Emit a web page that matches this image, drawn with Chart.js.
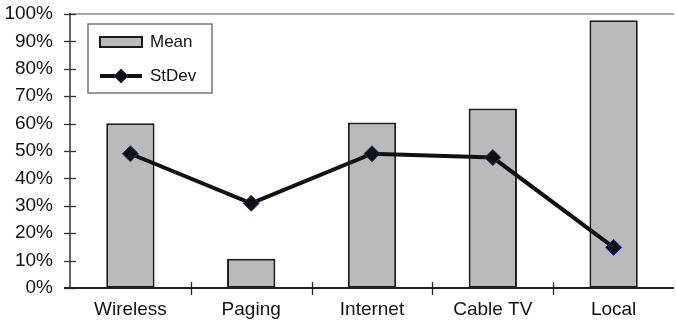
<!DOCTYPE html>
<html>
<head>
<meta charset="utf-8">
<script src="https://cdn.jsdelivr.net/npm/chart.js@4/dist/chart.umd.min.js"></script>
<style>
  html, body { margin: 0; padding: 0; background: #fff; overflow: hidden; }
  #wrap { width: 683px; height: 326px; }
</style>
</head>
<body>
<div id="wrap"><canvas id="c" width="683" height="326"></canvas></div>
<script>
// Categories and series (percent)
const categories = ['Wireless', 'Paging', 'Internet', 'Cable TV', 'Local'];
const meanValues = [60.1, 10.7, 60.4, 65.5, 97.7];
const stdevValues = [49.0, 30.9, 49.0, 47.6, 14.8];
const yTickStep = 10;

const FONT = '"Liberation Sans", Arial, Helvetica, sans-serif';

// Axis lines, crossing tick marks, top border and the boxed legend
const framePlugin = {
  id: 'frame',
  beforeDatasetsDraw(chart) {
    const { ctx, chartArea: a } = chart;
    ctx.save();
    ctx.strokeStyle = '#a6a6a6';
    ctx.lineWidth = 2;
    ctx.beginPath();
    ctx.moveTo(a.left, a.top);
    ctx.lineTo(a.right, a.top);
    ctx.stroke();
    ctx.restore();
  },
  afterDatasetsDraw(chart) {
    const { ctx, chartArea: a, scales } = chart;
    const xs = scales.x, ys = scales.y;
    ctx.save();
    // y axis
    ctx.strokeStyle = '#666';
    ctx.lineWidth = 2;
    ctx.beginPath();
    ctx.moveTo(a.left, a.top - 1);
    ctx.lineTo(a.left, a.bottom);
    ctx.stroke();
    ctx.strokeStyle = '#333';
    ctx.lineWidth = 1.3;
    ys.ticks.forEach(t => {
      const y = Math.round(ys.getPixelForValue(t.value)) + 0.5;
      ctx.beginPath();
      ctx.moveTo(a.left - 6, y);
      ctx.lineTo(a.left + 6, y);
      ctx.stroke();
    });
    // x axis
    ctx.strokeStyle = '#222';
    ctx.lineWidth = 2;
    ctx.beginPath();
    ctx.moveTo(a.left - 6, a.bottom);
    ctx.lineTo(a.right, a.bottom);
    ctx.stroke();
    ctx.lineWidth = 1.3;
    const n = categories.length;
    for (let i = 1; i < n; i++) {
      const x = Math.round((xs.getPixelForValue(i - 1) + xs.getPixelForValue(i)) / 2) + 0.5;
      ctx.beginPath();
      ctx.moveTo(x, a.bottom - 6);
      ctx.lineTo(x, a.bottom + 7);
      ctx.stroke();
    }

    // legend box
    const lx = a.left + 18, ly = a.top + 10, lw = 124, lh = 69;
    ctx.fillStyle = '#fff';
    ctx.fillRect(lx, ly, lw, lh);
    ctx.strokeStyle = '#777';
    ctx.lineWidth = 1.5;
    ctx.strokeRect(lx, ly, lw, lh);

    const bar = chart.data.datasets[1];
    const line = chart.data.datasets[0];
    const sx = lx + 12, sw = 42;
    // bar swatch
    ctx.fillStyle = bar.backgroundColor;
    ctx.fillRect(sx, ly + 13, sw, 10);
    ctx.strokeStyle = bar.borderColor;
    ctx.lineWidth = 2;
    ctx.strokeRect(sx, ly + 13, sw, 10);
    // line swatch
    const yL = ly + 52;
    ctx.strokeStyle = line.borderColor;
    ctx.lineWidth = 4;
    ctx.beginPath();
    ctx.moveTo(sx, yL);
    ctx.lineTo(sx + sw, yL);
    ctx.stroke();
    const cx = sx + sw / 2, r = 7;
    ctx.beginPath();
    ctx.moveTo(cx, yL - r);
    ctx.lineTo(cx + r, yL);
    ctx.lineTo(cx, yL + r);
    ctx.lineTo(cx - r, yL);
    ctx.closePath();
    ctx.fillStyle = line.pointBackgroundColor;
    ctx.fill();
    ctx.strokeStyle = line.pointBorderColor;
    ctx.lineWidth = 1;
    ctx.stroke();
    // labels
    ctx.fillStyle = '#111';
    ctx.font = '17px ' + FONT;
    ctx.textBaseline = 'middle';
    ctx.textAlign = 'left';
    ctx.fillText(bar.label, sx + sw + 8, ly + 18);
    ctx.fillText(line.label, sx + sw + 8, yL);
    ctx.restore();
  }
};

new Chart(document.getElementById('c'), {
  data: {
    labels: categories,
    datasets: [
      {
        type: 'line',
        label: 'StDev',
        data: stdevValues,
        order: 1,
        borderColor: '#111',
        borderWidth: 4,
        pointStyle: 'rectRot',
        pointRadius: 8,
        pointHoverRadius: 8,
        pointBackgroundColor: '#111',
        pointBorderColor: '#2b2b86',
        pointBorderWidth: 1,
        tension: 0,
        fill: false
      },
      {
        type: 'bar',
        label: 'Mean',
        data: meanValues,
        order: 2,
        backgroundColor: '#bababa',
        borderColor: '#1a1a1a',
        borderWidth: 2,
        borderSkipped: false,
        categoryPercentage: 1.0,
        barPercentage: 0.4
      }
    ]
  },
  options: {
    responsive: false,
    animation: false,
    events: [],
    layout: { padding: 0 },
    plugins: { legend: { display: false }, tooltip: { enabled: false } },
    scales: {
      x: {
        type: 'category',
        offset: true,
        border: { display: false },
        grid: { display: false, drawTicks: false },
        ticks: { color: '#111', font: { family: FONT, size: 19 }, padding: 10, maxRotation: 0 },
        afterFit(s) { s.height = 38; s.paddingLeft = 0; s.paddingRight = 0; }
      },
      y: {
        min: 0,
        max: 100,
        border: { display: false },
        grid: { display: false, drawTicks: false },
        ticks: {
          stepSize: yTickStep,
          color: '#111',
          font: { family: FONT, size: 19 },
          padding: 17,
          callback: v => v + '%'
        },
        afterFit(s) { s.width = 70; s.paddingTop = 14; s.paddingBottom = 0; }
      }
    }
  },
  plugins: [framePlugin]
});
</script>
</body>
</html>
